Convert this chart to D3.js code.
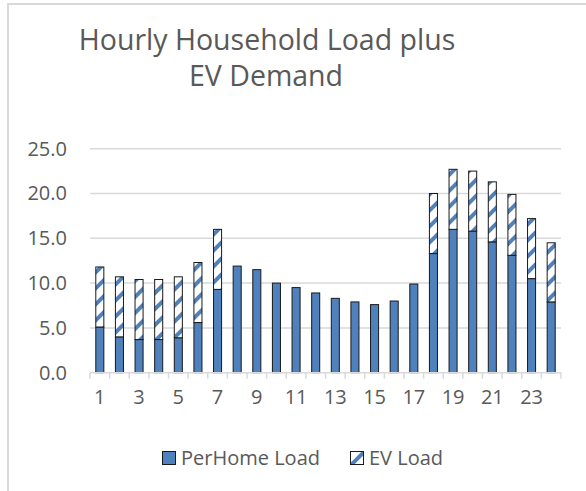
<!DOCTYPE html>
<html>
<head>
<meta charset="utf-8">
<script src="https://cdn.jsdelivr.net/npm/d3@7"></script>
<style>
  body { margin: 0; background: #fff; }
  text { font-family: "Open Sans", sans-serif; fill: #595959; }
</style>
</head>
<body>
<script>
// hours 1..24
var hours = d3.range(1, 25);
// household load per home
var perHome = [5.1, 4.0, 3.7, 3.7, 3.9, 5.6, 9.3, 11.9, 11.5, 10.0, 9.5, 8.9,
               8.3, 7.9, 7.6, 8.0, 9.9, 13.3, 16.0, 15.8, 14.6, 13.1, 10.5, 7.9];
// EV load stacked on top (zero during the day)
var evLoad = [6.7, 6.7, 6.7, 6.7, 6.8, 6.7, 6.7, 0, 0, 0, 0, 0,
              0, 0, 0, 0, 0, 6.7, 6.7, 6.7, 6.7, 6.8, 6.7, 6.6];
var yTicks = [0, 5, 10, 15, 20, 25];
var seriesNames = ["PerHome Load", "EV Load"];

var W = 586, H = 491;
var blue = "#4f81bd";

var svg = d3.select("body").append("svg")
  .attr("width", W).attr("height", H);

var defs = svg.append("defs");
var pat = defs.append("pattern")
  .attr("id", "ev")
  .attr("patternUnits", "userSpaceOnUse")
  .attr("width", 16).attr("height", 16);
pat.append("rect").attr("width", 16).attr("height", 16).attr("fill", "#fff");
pat.append("path")
  .attr("d", "M0,16L16,0M-4,4L4,-4M12,20L20,12")
  .attr("stroke", blue).attr("stroke-width", 4);

// chart border
svg.append("rect")
  .attr("x", 8).attr("y", 4).attr("width", 620).attr("height", 620)
  .attr("fill", "none").attr("stroke", "#d9d9d9").attr("stroke-width", 2);

// title
var title = svg.append("text").attr("text-anchor", "middle")
  .style("font-size", "28.5px");
title.append("tspan").attr("x", 267).attr("y", 50).text("Hourly Household Load plus");
title.append("tspan").attr("x", 266).attr("y", 86).text("EV Demand");

var x = d3.scaleBand().domain(hours).range([90, 561]).paddingInner(0.59).paddingOuter(0.295);
var y = d3.scaleLinear().domain([0, 25]).range([372.7, 148.7]);

// gridlines
svg.append("g").selectAll("line").data(yTicks.slice(1)).enter().append("line")
  .attr("x1", 90).attr("x2", 561)
  .attr("y1", function(d) { return y(d); }).attr("y2", function(d) { return y(d); })
  .attr("stroke", "#d9d9d9").attr("stroke-width", 1.5);

// y labels
var yAxis = svg.append("g").attr("transform", "translate(72,0)")
  .call(d3.axisLeft(y).tickValues(yTicks).tickSize(0).tickPadding(5).tickFormat(d3.format(".1f")));
yAxis.select(".domain").remove();
yAxis.selectAll("text").style("font-size", "20px").attr("fill", "#595959").attr("font-family", null);

// stacked data
var data = hours.map(function(h, i) { return {hour: h, home: perHome[i], ev: evLoad[i]}; });

svg.append("g").selectAll("rect").data(data).enter().append("rect")
  .attr("x", function(d) { return x(d.hour); })
  .attr("width", x.bandwidth())
  .attr("y", function(d) { return y(d.home); })
  .attr("height", function(d) { return y(0) - y(d.home); })
  .attr("fill", blue).attr("stroke", "#1a1a1a").attr("stroke-width", 1);

svg.append("g").selectAll("rect").data(data.filter(function(d) { return d.ev > 0; })).enter().append("rect")
  .attr("x", function(d) { return x(d.hour); })
  .attr("width", x.bandwidth())
  .attr("y", function(d) { return y(d.home + d.ev); })
  .attr("height", function(d) { return y(d.home) - y(d.home + d.ev); })
  .attr("fill", "url(#ev)").attr("stroke", "#1a1a1a").attr("stroke-width", 1);

// x axis line and boundary ticks
var step = x.step();
svg.append("line").attr("x1", 90).attr("x2", 561).attr("y1", y(0)).attr("y2", y(0))
  .attr("stroke", "#d9d9d9").attr("stroke-width", 1.5);
svg.append("g").selectAll("line").data(d3.range(0, 25)).enter().append("line")
  .attr("x1", function(i) { return 90 + i * step; }).attr("x2", function(i) { return 90 + i * step; })
  .attr("y1", y(0)).attr("y2", y(0) + 6)
  .attr("stroke", "#d9d9d9").attr("stroke-width", 1.5);

var xAxis = svg.append("g").attr("transform", "translate(0," + y(0) + ")")
  .call(d3.axisBottom(x).tickSize(0).tickPadding(17)
    .tickFormat(function(d) { return d % 2 === 1 ? d : ""; }));
xAxis.select(".domain").remove();
xAxis.selectAll("text").style("font-size", "20px").attr("fill", "#595959").attr("font-family", null);

// legend
var leg = svg.append("g");
var legX = [162, 350];
seriesNames.forEach(function(name, i) {
  leg.append("rect").attr("x", legX[i] + 0.5).attr("y", 451.5).attr("width", 13).attr("height", 13)
    .attr("fill", i === 0 ? blue : "url(#ev)").attr("stroke", "#1a1a1a").attr("stroke-width", 1);
  leg.append("text").attr("x", legX[i] + 19).attr("y", 465).style("font-size", "20px").text(name);
});
</script>
</body>
</html>
